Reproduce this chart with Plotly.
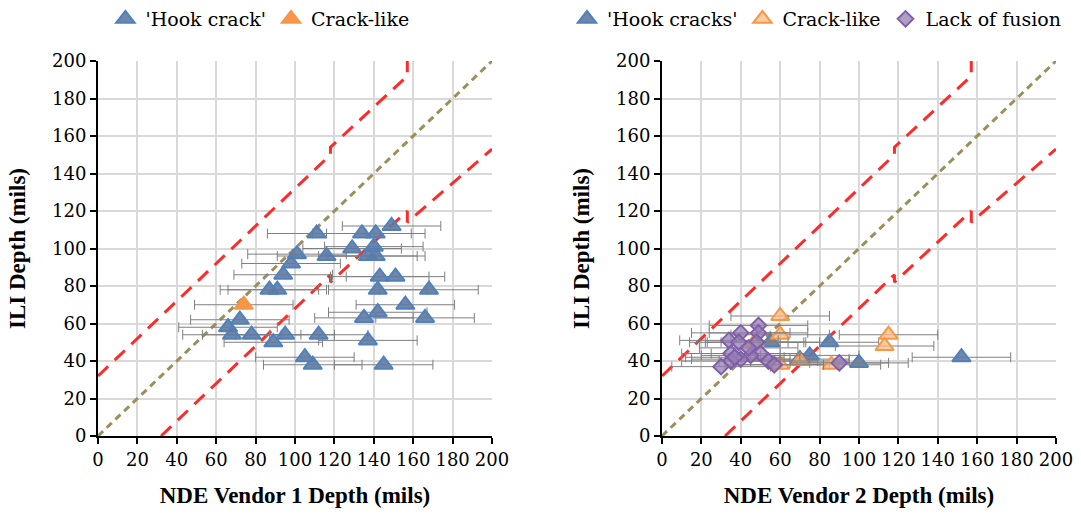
import plotly.graph_objects as go
from plotly.subplots import make_subplots

# ---------------- data ----------------
v1_hook_x = [111, 134, 141, 149, 129, 140, 137, 141, 101, 116, 98, 94, 143, 151, 87, 91, 142, 168,
             156, 142, 135, 166, 72, 66, 68, 78, 89, 95, 112, 137, 105, 109, 145]
v1_hook_y = [108, 108, 108, 112, 100, 101, 96, 96, 97, 96, 92, 86, 85, 85, 78, 78, 78, 78,
             70, 66, 63, 63, 62, 58, 54, 54, 50, 54, 54, 51, 42, 38, 38]
v1_crack_x = [74]
v1_crack_y = [70]

v2_hook_x = [152, 100, 85, 70, 75, 55]
v2_hook_y = [42, 39, 50, 41, 43, 50]
v2_crack_x = [60, 60, 115, 113, 70, 86, 60, 47]
v2_crack_y = [64, 54, 54, 48, 40, 38, 38, 50]
v2_lof_x = [49, 49, 40, 34, 39, 48, 50, 45, 35, 40, 35, 30, 54, 57, 90, 44, 37]
v2_lof_y = [59, 55, 55, 51, 50, 50, 44, 43, 44, 41, 40, 37, 40, 38, 39, 47, 42]

err_mils = 25  # horizontal error half-width

unity_x = [0, 200]
unity_y = [0, 200]
upper_x = [0, 118, 118, 157, 157]
upper_y = [32, 150, 154, 192, 200]
lower_x = [32, 118, 118, 157, 157, 200]
lower_y = [0, 86, 82, 120, 114, 153]

ticks = list(range(0, 201, 20))

# ---------------- style ----------------
FONT = "DejaVu Serif"
TFONT = "Liberation Serif"
BLUE_FILL = "rgba(98,122,160,0.9)"
BLUE_LINE = "#4F81BD"
ORANGE = "#F79646"
ORANGE_FILL = "rgba(250,185,130,0.75)"
PURPLE_FILL = "rgba(150,125,180,0.75)"
PURPLE_LINE = "#7F5FA8"
RED = "#FF2A2A"
OLIVE = "#9C8F5C"

fig = make_subplots(rows=1, cols=2, horizontal_spacing=0.1774)

def err():
    return dict(type="constant", value=err_mils, color="#7F7F7F", thickness=1, width=5)

def ref_lines(col):
    fig.add_trace(go.Scatter(x=unity_x, y=unity_y, mode="lines", showlegend=False, hoverinfo="skip",
                             line=dict(color=OLIVE, width=3, dash="7px,5px")), row=1, col=col)
    fig.add_trace(go.Scatter(x=upper_x, y=upper_y, mode="lines", showlegend=False, hoverinfo="skip",
                             line=dict(color=RED, width=3, dash="14px,9px")), row=1, col=col)
    fig.add_trace(go.Scatter(x=lower_x, y=lower_y, mode="lines", showlegend=False, hoverinfo="skip",
                             line=dict(color=RED, width=3, dash="14px,9px")), row=1, col=col)

ref_lines(1)
ref_lines(2)

# left chart
fig.add_trace(go.Scatter(x=v1_hook_x, y=v1_hook_y, mode="markers", name="'Hook crack'", legend="legend",
                         error_x=err(),
                         marker=dict(symbol="triangle-up", size=16, color=BLUE_FILL,
                                     line=dict(color=BLUE_LINE, width=2))), row=1, col=1)
fig.add_trace(go.Scatter(x=v1_crack_x, y=v1_crack_y, mode="markers", name="Crack-like", legend="legend",
                         error_x=err(),
                         marker=dict(symbol="triangle-up", size=16, color=ORANGE,
                                     line=dict(color=ORANGE, width=2))), row=1, col=1)

# right chart
fig.add_trace(go.Scatter(x=v2_hook_x, y=v2_hook_y, mode="markers", name="'Hook cracks'", legend="legend2",
                         error_x=err(),
                         marker=dict(symbol="triangle-up", size=16, color=BLUE_FILL,
                                     line=dict(color=BLUE_LINE, width=2))), row=1, col=2)
fig.add_trace(go.Scatter(x=v2_crack_x, y=v2_crack_y, mode="markers", name="Crack-like", legend="legend2",
                         error_x=err(),
                         marker=dict(symbol="triangle-up", size=16, color=ORANGE_FILL,
                                     line=dict(color=ORANGE, width=2))), row=1, col=2)
fig.add_trace(go.Scatter(x=v2_lof_x, y=v2_lof_y, mode="markers", name="Lack of fusion", legend="legend2",
                         error_x=err(),
                         marker=dict(symbol="diamond", size=12, color=PURPLE_FILL,
                                     line=dict(color=PURPLE_LINE, width=2))), row=1, col=2)

axis_common = dict(range=[0, 200], tickvals=ticks, showgrid=True, gridcolor="#D9D9D9", gridwidth=2,
                   showline=True, linecolor="black", linewidth=2, ticks="outside", ticklen=6,
                   tickcolor="black", tickwidth=1.5, zeroline=False, fixedrange=True,
                   tickfont=dict(family=FONT, size=18, color="black"))

title_font = dict(family=TFONT, size=23, color="black")
fig.update_xaxes(**axis_common)
fig.update_yaxes(**axis_common)
fig.update_xaxes(title=dict(text="<b>NDE Vendor 1 Depth (mils)</b>", font=title_font, standoff=18), row=1, col=1)
fig.update_xaxes(title=dict(text="<b>NDE Vendor 2 Depth (mils)</b>", font=title_font, standoff=18), row=1, col=2)
fig.update_yaxes(title=dict(text="<b>ILI Depth (mils)</b>", font=title_font, standoff=20), row=1, col=1)
fig.update_yaxes(title=dict(text="<b>ILI Depth (mils)</b>", font=title_font, standoff=20), row=1, col=2)

leg_font = dict(family=FONT, size=19, color="black")
fig.update_layout(
    width=1081, height=517,
    margin=dict(l=98, r=25, t=61, b=81, autoexpand=False),
    paper_bgcolor="white", plot_bgcolor="white",
    font=dict(family=FONT),
    legend=dict(orientation="h", x=0.169, y=1.0, xref="paper", yref="container", xanchor="center", yanchor="top",
                font=leg_font, itemwidth=30, tracegroupgap=0, bgcolor="rgba(0,0,0,0)"),
    legend2=dict(orientation="h", x=0.75, y=1.0, xref="paper", yref="container", xanchor="center", yanchor="top",
                 font=leg_font, itemwidth=30, tracegroupgap=0, bgcolor="rgba(0,0,0,0)"),
)

fig.write_html("out.html")
